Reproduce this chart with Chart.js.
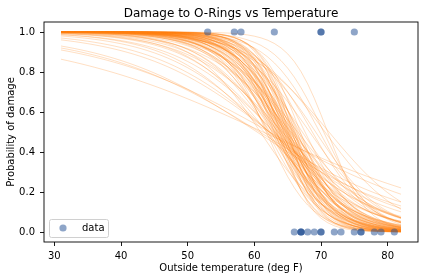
<!DOCTYPE html>
<html>
<head>
<meta charset="utf-8">
<script src="https://cdn.jsdelivr.net/npm/chart.js@4"></script>
<style>
  html, body { margin: 0; padding: 0; background: #fff; }
  canvas { display: block; }
</style>
</head>
<body>
<canvas id="c" width="424" height="280"></canvas>
<script>
// Observed flights: outside temperature and whether O-ring damage occurred
const obsTemp   = [66, 70, 69, 68, 67, 72, 73, 70, 57, 63, 70, 78, 67, 53, 67, 75, 70, 81, 76, 79, 75, 76, 58];
const obsDamage = [ 0,  1,  0,  0,  0,  0,  0,  0,  1,  1,  1,  0,  0,  1,  0,  0,  0,  0,  0,  0,  1,  0,  1];

// Temperature grid on which each posterior curve is evaluated
const tempGrid = [31,32,33,34,35,36,37,38,39,40,41,42,43,44,45,46,47,48,49,50,
                  51,52,53,54,55,56,57,58,59,60,61,62,63,64,65,66,67,68,69,70,
                  71,72,73,74,75,76,77,78,79,80,81,82];

// Posterior curve parameters:
// curveMid = temperature where P(damage)=0.5, curveSlope = steepness (beta)
const curveMid = [
  61.3, 62.3, 60.8, 60.4, 62.3, 62.3, 62.2,
  63.0, 61.5, 64.2, 62.8, 65.5, 63.6, 61.9, 66.5, 64.8, 63.1, 65.9, 62.4, 64.0, 67.2, 60.9,
  63.5, 64.6, 62.7, 65.3, 66.1, 63.9, 64.9, 62.2, 65.7, 64.3, 63.2, 66.8, 64.7, 65.1, 63.7,
  62.9, 66.3, 64.5, 65.5, 63.4, 67.6, 64.1, 65.8, 62.6, 64.8, 66.0, 63.8, 65.2, 64.4, 61.8,
  65.0, 63.6, 66.4, 64.2, 65.6, 63.0, 64.7, 66.9, 64.0, 65.3, 63.4, 64.9, 66.1, 64.4, 65.7,
  63.8, 65.1,
  69.2, 70.6, 68.7, 71.2, 69.8, 68.3, 71.0, 70.4,
  64.6, 65.4, 63.3, 64.0, 66.6, 62.0, 65.9, 64.3, 63.1, 65.0
];
const curveSlope = [
  0.061, 0.074, 0.082, 0.088, 0.102, 0.111, 0.125,
  0.135, 0.140, 0.145, 0.150, 0.155, 0.160, 0.165, 0.170, 0.175, 0.180, 0.185, 0.190, 0.195, 0.200, 0.200,
  0.205, 0.210, 0.210, 0.215, 0.220, 0.220, 0.225, 0.230, 0.230, 0.235, 0.240, 0.240, 0.245, 0.250, 0.250,
  0.255, 0.260, 0.260, 0.265, 0.270, 0.270, 0.275, 0.280, 0.280, 0.285, 0.290, 0.290, 0.295, 0.300, 0.300,
  0.310, 0.315, 0.320, 0.325, 0.330, 0.335, 0.340, 0.350, 0.355, 0.360, 0.370, 0.380, 0.390, 0.400, 0.410,
  0.420, 0.440,
  0.200, 0.180, 0.230, 0.160, 0.250, 0.190, 0.350, 0.280,
  0.270, 0.240, 0.300, 0.260, 0.280, 0.260, 0.350, 0.210, 0.230, 0.200
];

const xTicks = [30, 40, 50, 60, 70, 80];
const yTicks = [0.0, 0.2, 0.4, 0.6, 0.8, 1.0];

const titleText = 'Damage to O-Rings vs Temperature';
const xLabel = 'Outside temperature (deg F)';
const yLabel = 'Probability of damage';
const legendLabel = 'data';

const FONT = '"DejaVu Sans", sans-serif';
const pointColor = 'rgba(30, 75, 145, 0.5)';
const curveColor = 'rgba(255, 127, 14, 0.25)';

const datasets = [];
datasets.push({
  type: 'scatter',
  label: legendLabel,
  data: obsTemp.map((t, i) => ({ x: t, y: obsDamage[i] })),
  backgroundColor: pointColor,
  borderWidth: 0,
  pointRadius: 3.6,
  pointHoverRadius: 3.6,
  order: 0
});
curveMid.forEach((m, k) => {
  const b = curveSlope[k];
  datasets.push({
    type: 'line',
    label: 'curve' + k,
    data: tempGrid.map(t => ({ x: t, y: 1 / (1 + Math.exp(b * (t - m))) })),
    borderColor: curveColor,
    borderWidth: 1,
    pointRadius: 0,
    fill: false,
    tension: 0,
    order: 1
  });
});

const decorPlugin = {
  id: 'decor',
  afterDraw(chart) {
    const ctx = chart.ctx;
    const a = chart.chartArea;
    ctx.save();
    // frame (all four spines)
    ctx.strokeStyle = '#000';
    ctx.lineWidth = 0.9;
    ctx.strokeRect(a.left, a.top, a.right - a.left, a.bottom - a.top);
    // title
    ctx.fillStyle = '#000';
    ctx.font = '12px ' + FONT;
    ctx.textAlign = 'center';
    ctx.textBaseline = 'middle';
    ctx.fillText(titleText, (a.left + a.right) / 2, 13.5);
    // legend box
    const lx = 49.5, ly = 219.5, lw = 59, lh = 18;
    ctx.beginPath();
    if (ctx.roundRect) ctx.roundRect(lx, ly, lw, lh, 2); else ctx.rect(lx, ly, lw, lh);
    ctx.fillStyle = 'rgba(255,255,255,0.8)';
    ctx.fill();
    ctx.strokeStyle = '#d0d0d0';
    ctx.lineWidth = 1;
    ctx.stroke();
    ctx.beginPath();
    ctx.arc(63, 228, 3.6, 0, Math.PI * 2);
    ctx.fillStyle = pointColor;
    ctx.fill();
    ctx.fillStyle = '#000';
    ctx.font = '10px ' + FONT;
    ctx.textAlign = 'left';
    ctx.textBaseline = 'middle';
    ctx.fillText(legendLabel, 82, 228.5);
    ctx.restore();
  }
};

new Chart(document.getElementById('c'), {
  type: 'scatter',
  data: { datasets },
  options: {
    responsive: false,
    devicePixelRatio: 1,
    animation: false,
    events: [],
    layout: { padding: { top: 22, right: 6, left: 0, bottom: 0 } },
    plugins: {
      legend: { display: false },
      title: { display: false },
      tooltip: { enabled: false }
    },
    scales: {
      x: {
        type: 'linear',
        min: 28.45,
        max: 84.55,
        afterFit(s) { s.height = 38; },
        afterBuildTicks(s) { s.ticks = xTicks.map(v => ({ value: v })); },
        border: { display: false },
        grid: { drawOnChartArea: false, drawTicks: true, tickLength: 4, color: '#000', lineWidth: 0.9 },
        ticks: { color: '#000', font: { family: FONT, size: 10 }, padding: 4, maxRotation: 0,
                 callback: v => String(v) },
        title: { display: true, text: xLabel, color: '#000', font: { family: FONT, size: 10 },
                 padding: { top: 0, bottom: 6 } }
      },
      y: {
        type: 'linear',
        min: -0.05,
        max: 1.05,
        afterFit(s) { s.width = 44; },
        afterBuildTicks(s) { s.ticks = yTicks.map(v => ({ value: v })); },
        border: { display: false },
        grid: { drawOnChartArea: false, drawTicks: true, tickLength: 4, color: '#000', lineWidth: 0.9 },
        ticks: { color: '#000', font: { family: FONT, size: 10 }, padding: 5,
                 callback: v => Number(v).toFixed(1) },
        title: { display: true, text: yLabel, color: '#000', font: { family: FONT, size: 10 },
                 padding: { top: 5, bottom: 0 } }
      }
    }
  },
  plugins: [decorPlugin]
});
</script>
</body>
</html>
